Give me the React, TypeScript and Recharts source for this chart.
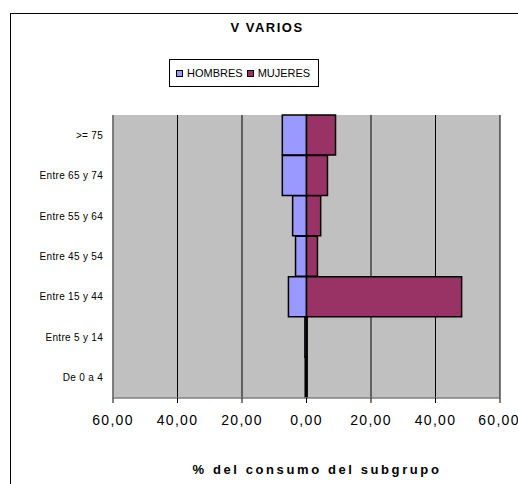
import { BarChart, Bar, XAxis, YAxis, CartesianGrid } from 'recharts'

const ageGroups = ['>= 75', 'Entre 65 y 74', 'Entre 55 y 64', 'Entre 45 y 54', 'Entre 15 y 44', 'Entre 5 y 14', 'De 0 a 4']
// hombres plotted to the left (negative), mujeres to the right
const hombres = [-7.5, -7.5, -4.3, -3.4, -5.6, -0.5, -0.4]
const mujeres = [9.0, 6.5, 4.4, 3.4, 48.1, 0.2, 0.2]
const xTicks = [-60, -40, -20, 0, 20, 40, 60]

const series = [
  { key: 'hombres', name: 'HOMBRES', color: '#9999FF' },
  { key: 'mujeres', name: 'MUJERES', color: '#993366' },
]

const rows = ageGroups.map((group, i) => ({ group, hombres: hombres[i], mujeres: mujeres[i] }))

const FONT = 'Arial, "Liberation Sans", sans-serif'

function fmt(v: number) {
  return Math.abs(v).toFixed(2).replace('.', ',')
}

export default function App() {
  return (
    <div style={{ position: 'absolute', left: 0, top: 0, width: 518, height: 484, overflow: 'hidden', background: '#fff' }}>
      {/* chart frame, right/bottom edges run off the picture */}
      <div style={{ position: 'absolute', left: 10, top: 13, width: 530, height: 500, border: '1.5px solid #000' }} />
      <div
        style={{
          position: 'absolute', left: 0, width: 534, top: 20, textAlign: 'center',
          fontFamily: FONT, fontWeight: 'bold', fontSize: 13, letterSpacing: 1.5,
        }}
      >
        V VARIOS
      </div>
      {/* legend */}
      <div
        style={{
          position: 'absolute', left: 169, top: 59,
          display: 'inline-flex', alignItems: 'center',
          border: '1px solid #000', padding: '7px 8px 7px 6px', background: '#fff',
          fontFamily: FONT, fontSize: 11, gap: 4,
        }}
      >
        {series.map((s) => (
          <span key={s.key} style={{ display: 'inline-flex', alignItems: 'center', gap: 4 }}>
            <span style={{ width: 5, height: 5, background: s.color, border: '1.5px solid #000' }} />
            {s.name}
          </span>
        ))}
      </div>
      <div
        style={{
          position: 'absolute', left: 0, width: 634, top: 462, textAlign: 'center',
          fontFamily: FONT, fontWeight: 'bold', fontSize: 13, letterSpacing: 2.6,
        }}
      >
        % del consumo del subgrupo
      </div>
      <BarChart
        width={518}
        height={484}
        layout="vertical"
        data={rows}
        stackOffset="sign"
        barCategoryGap={0}
        margin={{ top: 115, right: 18, bottom: 0, left: 0 }}
        style={{ position: 'absolute', left: 0, top: 0 }}
      >
        <CartesianGrid fill="#C0C0C0" stroke="#000" horizontal={false} />
        <XAxis
          type="number"
          domain={[-60, 60]}
          ticks={xTicks}
          tickFormatter={fmt}
          height={86}
          stroke="#000"
          axisLine={{ stroke: '#808080', strokeWidth: 1.5 }}
          tickSize={5}
          tickMargin={12}
          tick={{ fontFamily: FONT, fontSize: 14, fill: '#000', letterSpacing: 1.3 }}
        />
        <XAxis
          xAxisId="top"
          orientation="top"
          type="number"
          domain={[-60, 60]}
          height={0}
          tick={false}
          tickLine={false}
          axisLine={{ stroke: '#808080', strokeWidth: 1.5 }}
        />
        <YAxis
          type="category"
          dataKey="group"
          width={113}
          tickLine={false}
          tickMargin={4}
          axisLine={{ stroke: '#808080', strokeWidth: 1.5 }}
          tick={{ fontFamily: FONT, fontSize: 10, fill: '#000', letterSpacing: 0.3 }}
        />
        <YAxis
          yAxisId="right"
          orientation="right"
          type="category"
          dataKey="group"
          width={0}
          tick={false}
          tickLine={false}
          axisLine={{ stroke: '#808080', strokeWidth: 1.5 }}
        />
        {series.map((s) => (
          <Bar
            key={s.key}
            dataKey={s.key}
            name={s.name}
            stackId="a"
            fill={s.color}
            stroke="#000"
            strokeWidth={1.5}
            isAnimationActive={false}
          />
        ))}
      </BarChart>
    </div>
  )
}
